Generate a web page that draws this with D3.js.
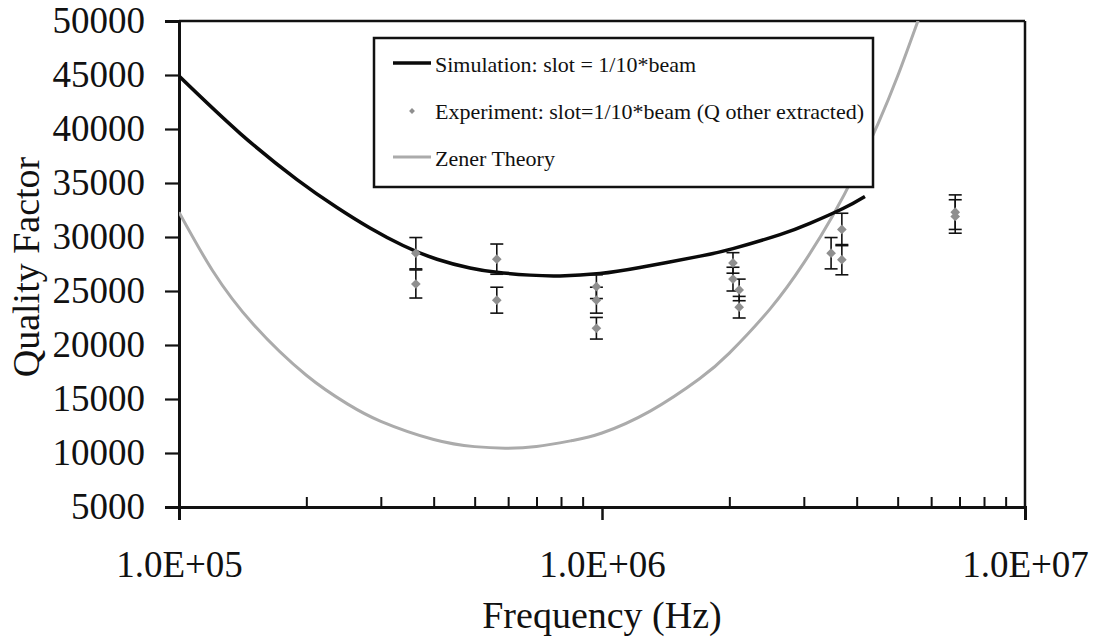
<!DOCTYPE html>
<html>
<head>
<meta charset="utf-8">
<script src="https://cdn.jsdelivr.net/npm/d3@7"></script>
<style>
  html, body { margin: 0; padding: 0; background: #fff; }
  svg { display: block; }
</style>
</head>
<body>
<svg id="chart" width="1098" height="641" font-family="Liberation Serif"></svg>
<script>
// Simulated quality factor, slot = 1/10 * beam
const simFreq = [1.0e5, 1.394e5, 1.901e5, 2.363e5, 2.828e5, 3.385e5, 4.074e5, 4.875e5, 5.645e5, 6.761e5, 7.955e5, 9.89e5, 1.229e6, 1.706e6, 2.04e6, 2.635e6, 3.10e6, 3.713e6, 4.184e6];
const simQ    = [44900, 39600, 35320, 32730, 30830, 29210, 27940, 27130, 26730, 26470, 26400, 26620, 27180, 28230, 28920, 30220, 31260, 32640, 33760];

// Zener thermoelastic damping theory
const zenerFreq = [1.0e5, 1.2e5, 1.5e5, 2.0e5, 2.5e5, 3.0e5, 4.0e5, 5.0e5, 5.9e5, 7.0e5, 8.5e5, 1.0e6, 1.3e6, 1.7e6, 2.0e6, 2.5e6, 3.0e6, 3.5e6, 4.0e6, 4.5e6, 5.0e6, 5.6e6];
const zenerQ    = [32300, 26900, 21900, 17200, 14550, 12930, 11250, 10590, 10450, 10600, 11150, 11850, 13880, 16870, 19250, 23370, 27600, 31880, 36200, 40540, 44900, 50150];

// Measured quality factor with error bars (Q other extracted)
const expFreq = [3.63e5, 3.63e5, 5.64e5, 5.64e5, 9.7e5, 9.7e5, 9.7e5, 2.04e6, 2.04e6, 2.11e6, 2.11e6, 3.48e6, 3.69e6, 3.69e6, 6.84e6, 6.84e6];
const expQ    = [28500, 25650, 27950, 24150, 25400, 24150, 21550, 27600, 26100, 25100, 23500, 28500, 30700, 27900, 32300, 31900];
const expErr  = [1450, 1300, 1400, 1200, 1100, 1200, 1000, 950, 1100, 1000, 1000, 1450, 1500, 1400, 1600, 1550];

const yTicks = [5000, 10000, 15000, 20000, 25000, 30000, 35000, 40000, 45000, 50000];
const xMajor = [1e5, 1e6, 1e7];
const xMajorLabels = ["1.0E+05", "1.0E+06", "1.0E+07"];

const legendLabels = [
  "Simulation: slot = 1/10*beam",
  "Experiment: slot=1/10*beam (Q other extracted)",
  "Zener Theory"
];

const FONT = "Liberation Serif";
const INK = "#111";

const svg = d3.select("#chart");
const L = 179, R = 1025, T = 21, B = 507;

const x = d3.scaleLog().domain([1e5, 1e7]).range([L, R]);
const y = d3.scaleLinear().domain([5000, 50000]).range([B, T]);

svg.append("clipPath").attr("id", "plotClip")
  .append("rect").attr("x", L).attr("y", T).attr("width", R - L).attr("height", B - T);

// Frame (top and right)
svg.append("line").attr("x1", L).attr("x2", R).attr("y1", T).attr("y2", T)
  .attr("stroke", INK).attr("stroke-width", 2.5);
svg.append("line").attr("x1", R).attr("x2", R).attr("y1", T).attr("y2", B)
  .attr("stroke", INK).attr("stroke-width", 2.5);

// Y axis
const yAxis = svg.append("g").attr("transform", `translate(${L},0)`)
  .call(d3.axisLeft(y).tickValues(yTicks).tickFormat(d3.format("d")).tickSize(14).tickPadding(20));
yAxis.attr("font-family", FONT).attr("font-size", 37);
yAxis.select(".domain").attr("stroke", INK).attr("stroke-width", 3);
yAxis.selectAll(".tick line").attr("stroke", INK).attr("stroke-width", 2.2);
yAxis.selectAll(".tick text").attr("font-family", FONT).attr("font-size", 37).attr("fill", INK);

// X axis minor ticks (inside the plot)
const minorVals = [];
[1e5, 1e6].forEach(d => { for (let k = 2; k <= 9; k++) minorVals.push(d * k); });
const xMinor = svg.append("g").attr("transform", `translate(0,${B})`)
  .call(d3.axisTop(x).tickValues(minorVals).tickFormat("").tickSize(10));
xMinor.select(".domain").remove();
xMinor.selectAll(".tick line").attr("stroke", INK).attr("stroke-width", 2);

// X axis major ticks
const xAxis = svg.append("g").attr("transform", `translate(0,${B})`)
  .call(d3.axisBottom(x).tickValues(xMajor).tickFormat((d, i) => xMajorLabels[i]).tickSize(13).tickPadding(31));
xAxis.attr("font-family", FONT).attr("font-size", 37);
xAxis.select(".domain").attr("stroke", INK).attr("stroke-width", 3);
xAxis.selectAll(".tick line").attr("stroke", INK).attr("stroke-width", 2.5);
xAxis.selectAll(".tick text").attr("font-family", FONT).attr("font-size", 37).attr("fill", INK);

// Axis titles
svg.append("text").attr("x", (L + R) / 2).attr("y", 628).attr("text-anchor", "middle")
  .attr("font-family", FONT).attr("font-size", 38).attr("fill", INK).text("Frequency (Hz)");
svg.append("text").attr("transform", "translate(39,267) rotate(-90)").attr("text-anchor", "middle")
  .attr("font-family", FONT).attr("font-size", 38).attr("fill", INK).text("Quality Factor");

const plot = svg.append("g").attr("clip-path", "url(#plotClip)");
const lineGen = d3.line().x(d => x(d[0])).y(d => y(d[1])).curve(d3.curveNatural);

// Zener theory curve
plot.append("path").datum(zenerFreq.map((f, i) => [f, zenerQ[i]]))
  .attr("d", lineGen).attr("fill", "none").attr("stroke", "#ababab").attr("stroke-width", 3);

// Simulation curve
plot.append("path").datum(simFreq.map((f, i) => [f, simQ[i]]))
  .attr("d", lineGen).attr("fill", "none").attr("stroke", "#0a0a0a").attr("stroke-width", 3.5);

// Error bars
const exp = expFreq.map((f, i) => ({ f, q: expQ[i], e: expErr[i] }));
const eb = plot.append("g").attr("stroke", INK).attr("stroke-width", 1.6);
exp.forEach(d => {
  const cx = x(d.f);
  eb.append("line").attr("x1", cx).attr("x2", cx).attr("y1", y(d.q + d.e)).attr("y2", y(d.q - d.e));
  eb.append("line").attr("x1", cx - 6.5).attr("x2", cx + 6.5).attr("y1", y(d.q + d.e)).attr("y2", y(d.q + d.e));
  eb.append("line").attr("x1", cx - 6.5).attr("x2", cx + 6.5).attr("y1", y(d.q - d.e)).attr("y2", y(d.q - d.e));
});

// Experimental points (diamonds)
const diamond = d3.symbol().type(d3.symbolDiamond2).size(60);
plot.append("g").selectAll("path").data(exp).join("path")
  .attr("transform", d => `translate(${x(d.f)},${y(d.q)})`)
  .attr("d", diamond).attr("fill", "#8f8f8f");

// Legend
const lg = svg.append("g");
lg.append("rect").attr("x", 374).attr("y", 38).attr("width", 499).attr("height", 149)
  .attr("fill", "#fff").attr("stroke", INK).attr("stroke-width", 2.5);
const rowY = [63, 110, 157];
lg.append("line").attr("x1", 393).attr("x2", 431).attr("y1", rowY[0]).attr("y2", rowY[0])
  .attr("stroke", "#0a0a0a").attr("stroke-width", 3.5);
lg.append("path").attr("transform", `translate(412,${rowY[1] + 1})`)
  .attr("d", d3.symbol().type(d3.symbolDiamond2).size(22)).attr("fill", "#8f8f8f");
lg.append("line").attr("x1", 393).attr("x2", 431).attr("y1", rowY[2]).attr("y2", rowY[2])
  .attr("stroke", "#ababab").attr("stroke-width", 3);
legendLabels.forEach((t, i) => {
  lg.append("text").attr("x", 435).attr("y", rowY[i] + 9)
    .attr("font-family", FONT).attr("font-size", 22).attr("fill", INK).text(t);
});
</script>
</body>
</html>
